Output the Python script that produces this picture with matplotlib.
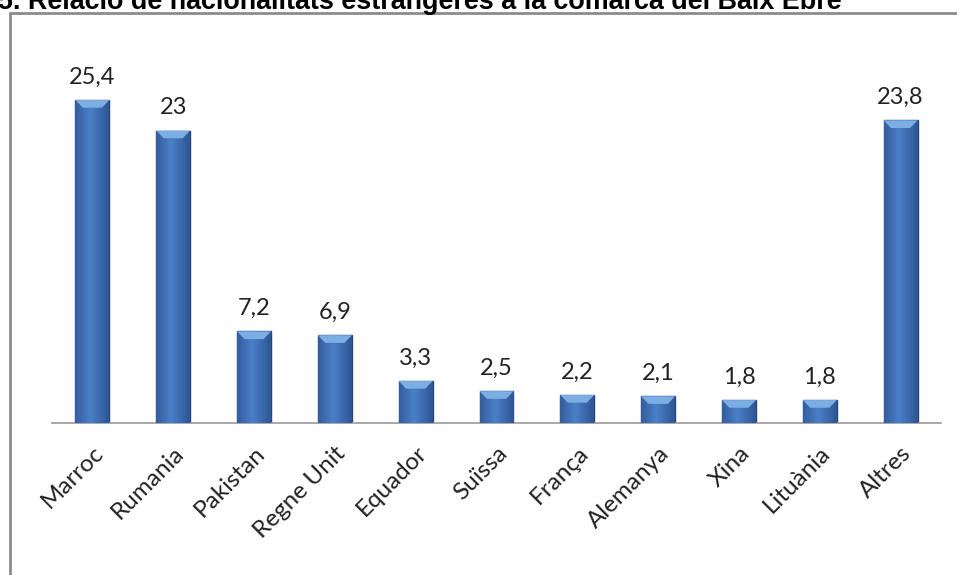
import numpy as np
import matplotlib
matplotlib.use('Agg')
import matplotlib.pyplot as plt
from matplotlib.patches import Rectangle
from matplotlib.transforms import ScaledTranslation

# dades
countries = ['Marroc', 'Rumania', 'Pakistan', 'Regne Unit', 'Equador', 'Suïssa',
             'França', 'Alemanya', 'Xina', 'Lituània', 'Altres']
values = [25.4, 23, 7.2, 6.9, 3.3, 2.5, 2.2, 2.1, 1.8, 1.8, 23.8]
value_labels = ['25,4', '23', '7,2', '6,9', '3,3', '2,5', '2,2', '2,1', '1,8', '1,8', '23,8']
title = '5. Relació de nacionalitats estrangeres a la comarca del Baix Ebre'

fig = plt.figure(figsize=(9.57, 5.75), dpi=100)
ax = fig.add_axes([52/957, 152/575, 889/957, 356/575])

x = np.arange(len(countries))
bars = ax.bar(x, values, width=0.42, color='#3a6db3', edgecolor='#254677', linewidth=1.0, zorder=2)

# horizontal gradient inside each bar, for the bevel look
grad = np.linspace(0, 1, 64)
shade = 1 - np.abs(grad - 0.45) * 1.3
cmap = matplotlib.colors.LinearSegmentedColormap.from_list('b', ['#234580', '#4a80c8'])
for b in bars:
    x0, w, h = b.get_x(), b.get_width(), b.get_height()
    im = ax.imshow(shade[np.newaxis, :], cmap=cmap, aspect='auto',
                   extent=[x0, x0 + w, 0, h], zorder=3, vmin=0, vmax=1)
    im.set_clip_path(b)
    # lighter top bevel
    ax.fill([x0, x0 + w, x0 + w * 0.78, x0 + w * 0.22], [h, h, h - 0.6, h - 0.6],
            color='#7cadE3', zorder=4, lw=0)

for xi, v, lab in zip(x, values, value_labels):
    ax.annotate(lab, (xi, v), xytext=(0, 12), textcoords='offset points',
                ha='center', va='baseline', fontsize=17, color='#222222', family='Lato')

ax.set_xlim(-0.5, len(countries) - 0.5)
ax.set_ylim(0, 28)
ax.set_xticks(x)
ax.set_xticklabels(countries, rotation=45, ha='right', rotation_mode='anchor',
                   fontsize=17.5, family='Lato', color='#222222')
shift = ScaledTranslation(10/100, 0, fig.dpi_scale_trans)
for t in ax.get_xticklabels():
    t.set_transform(t.get_transform() + shift)
ax.tick_params(axis='x', length=0, pad=14)
ax.set_yticks([])
for s in ['top', 'right', 'left']:
    ax.spines[s].set_visible(False)
ax.spines['bottom'].set_color('#999999')
ax.spines['bottom'].set_linewidth(1.2)

# chart frame (cut off at right and bottom)
fig.patches.append(Rectangle((10/957, -0.1), 1.1, 1 - 13/575 + 0.1, transform=fig.transFigure,
                             fill=False, edgecolor='#8c8c8c', linewidth=2, clip_on=False))

fig.text(-0.002, 1 - 9/575, title, fontsize=19.4, fontweight='bold', family='Liberation Sans',
         ha='left', va='baseline')

fig.savefig('out.png', dpi=100)
